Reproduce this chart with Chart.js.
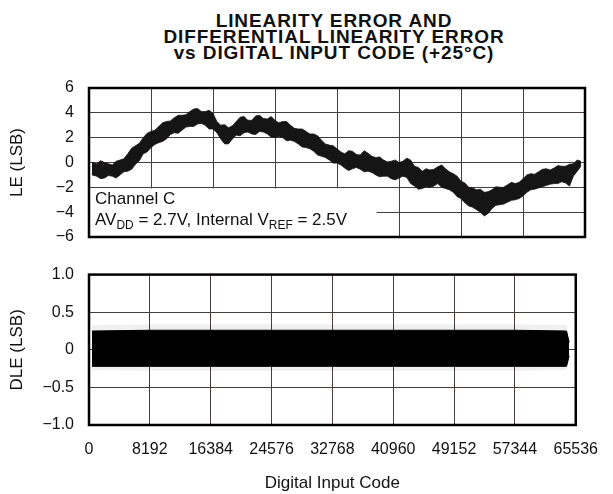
<!DOCTYPE html>
<html>
<head>
<meta charset="utf-8">
<script src="https://cdn.jsdelivr.net/npm/chart.js@4/dist/chart.umd.min.js"></script>
<style>
  body { margin: 0; background: #fff; width: 613px; height: 494px; position: relative; overflow: hidden; font-family: "Liberation Sans", Arial, sans-serif; }
  #title { position: absolute; left: 0; top: 13px; width: 668px; text-align: center; font-weight: bold; font-size: 19px; line-height: 16px; letter-spacing: 0.9px; color: #111; }
  canvas { position: absolute; left: 0; }
  #leChart { top: 0; }
  #dleChart { top: 250px; }
</style>
</head>
<body>
<div id="title">LINEARITY ERROR AND<br>DIFFERENTIAL LINEARITY ERROR<br>vs DIGITAL INPUT CODE (+25°C)</div>
<canvas id="leChart" width="613" height="262"></canvas>
<canvas id="dleChart" width="613" height="244"></canvas>
<script>
// Input codes and LE envelope (upper / lower edge of the noisy trace, in LSB)
const leCodes = [400,
  1024, 1536, 2048, 2560, 3072, 3584, 4096, 4608, 5120, 5632, 6144, 6656, 7168, 7680, 8192,
  8704, 9216, 9728, 10240, 10752, 11264, 11776, 12288, 12800, 13312, 13824, 14336, 14848, 15360, 15872, 16384,
  16896, 17408, 17920, 18432, 18944, 19456, 19968, 20480, 20992, 21504, 22016, 22528, 23040, 23552, 24064, 24576,
  25088, 25600, 26112, 26624, 27136, 27648, 28160, 28672, 29184, 29696, 30208, 30720, 31232, 31744, 32256, 32768,
  33280, 33792, 34304, 34816, 35328, 35840, 36352, 36864, 37376, 37888, 38400, 38912, 39424, 39936, 40448, 40960,
  41472, 41984, 42496, 43008, 43520, 44032, 44544, 45056, 45568, 46080, 46592, 47104, 47616, 48128, 48640, 49152,
  49664, 50176, 50688, 51200, 51712, 52224, 52736, 53248, 53760, 54272, 54784, 55296, 55808, 56320, 56832, 57344,
  57856, 58368, 58880, 59392, 59904, 60416, 60928, 61440, 61952, 62464, 62976, 63488, 64000, 64512,
  65000];
const leHigh = [0.0,
  -0.1, 0.15, 0.0, -0.1, -0.2, 0.1, 0.2, 0.3, 0.7, 1.15, 1.35, 1.55, 2.0, 2.35, 2.5,
  2.6, 2.9, 3.2, 3.3, 3.35, 3.6, 3.8, 3.8, 3.85, 4.1, 4.3, 4.35, 4.1, 4.1, 4.2, 3.95,
  3.3, 3.0, 3.05, 2.8, 2.95, 3.3, 3.65, 3.7, 3.4, 3.4, 3.75, 3.8, 3.55, 3.5, 3.7, 3.4,
  3.2, 3.3, 3.3, 3.0, 2.75, 2.7, 2.7, 2.5, 2.3, 2.3, 2.15, 1.8, 1.5, 1.4, 1.35, 1.1,
  0.85, 0.7, 0.95, 0.9, 0.65, 0.6, 0.95, 0.75, 0.5, 0.4, 0.45, 0.2, 0.05, 0.1, 0.2, 0.0,
  0.1, 0.35, 0.2, -0.3, -0.4, -0.7, -0.5, -0.6, -0.55, -0.35, -0.2, -0.5, -0.75, -0.9, -1.1, -1.5,
  -1.65, -2.0, -2.05, -2.2, -2.15, -2.4, -2.35, -2.2, -1.95, -2.0, -2.0, -1.8, -1.6, -1.7, -1.6, -1.3,
  -1.0, -0.9, -0.95, -0.75, -0.55, -0.5, -0.6, -0.45, -0.25, -0.3, -0.3, -0.15, -0.1, 0.2,
  0.1];
const leLow = [-1.0,
  -1.1, -1.3, -1.25, -1.05, -1.1, -1.25, -1.0, -0.75, -0.7, -0.55, -0.15, 0.15, 0.7, 0.85, 1.2,
  1.45, 1.6, 1.7, 1.9, 2.25, 2.4, 2.35, 2.6, 2.85, 2.9, 2.9, 3.1, 3.15, 3.0, 2.7, 2.7,
  2.4, 1.9, 1.5, 1.5, 1.9, 2.2, 2.15, 2.4, 2.45, 2.3, 2.25, 2.5, 2.45, 2.3, 2.05, 2.0,
  2.1, 2.0, 1.75, 1.8, 1.7, 1.5, 1.25, 1.2, 1.1, 0.9, 0.6, 0.5, 0.4, 0.2, -0.05, -0.05,
  -0.2, -0.45, -0.65, -0.5, -0.4, -0.55, -0.75, -0.7, -0.8, -1.0, -1.15, -1.1, -1.1, -1.3, -1.4, -1.25,
  -1.1, -1.2, -1.7, -1.9, -2.15, -2.1, -1.95, -2.0, -1.9, -1.7, -2.0, -2.1, -2.2, -2.4, -2.75, -2.9,
  -3.25, -3.5, -3.6, -3.8, -4.0, -4.3, -4.1, -3.7, -3.45, -3.4, -3.35, -3.2, -3.05, -3.0, -2.9, -2.7,
  -2.4, -2.2, -2.15, -2.05, -1.95, -1.85, -1.75, -1.7, -1.7, -1.55, -1.65, -1.9, -1.1, -0.7,
  -0.3];

// DLE band: dense core and the faint outer spread
const dleCodes = [400, 8192, 16384, 24576, 32768, 40960, 49152, 57344, 64300, 64650];
const dleHigh = [0.25, 0.26, 0.26, 0.26, 0.26, 0.26, 0.26, 0.26, 0.25, 0.1];
const dleLow = [-0.22, -0.22, -0.22, -0.22, -0.22, -0.22, -0.22, -0.22, -0.22, -0.08];
const dleSpreadHigh = [0.33, 0.34, 0.34, 0.34, 0.34, 0.34, 0.34, 0.34, 0.33, 0.1];
const dleSpreadLow = [-0.27, -0.28, -0.28, -0.28, -0.28, -0.28, -0.28, -0.28, -0.27, -0.08];

// Axis ticks
const codeTicks = [0, 8192, 16384, 24576, 32768, 40960, 49152, 57344, 65536];
const leTicks = [-6, -4, -2, 0, 2, 4, 6];
const dleTicks = [-1.0, -0.5, 0, 0.5, 1.0];

const FONT = '"Liberation Sans", Arial, sans-serif';
const GRID = '#4a3c3c';

const pts = (xs, ys) => xs.map((x, i) => ({ x: x, y: ys[i] }));
const fmtLE = v => (v < 0 ? '\u2212' : '') + Math.abs(v);
const fmtDLE = v => v === 0 ? '0' : (v < 0 ? '\u2212' : '') + Math.abs(v).toFixed(1);

// heavy black frame round the plot area
const frame = {
  id: 'frame',
  afterDraw(chart) {
    const { ctx, chartArea: a } = chart;
    ctx.save();
    ctx.strokeStyle = '#000';
    ctx.lineWidth = 2.5;
    ctx.strokeRect(a.left, a.top, a.right - a.left, a.bottom - a.top);
    ctx.restore();
  }
};

// white note box in the lower left corner of the LE plot
const noteBox = {
  id: 'noteBox',
  beforeDatasetsDraw(chart) {
    const { ctx, chartArea: a, scales: { x, y } } = chart;
    const top = y.getPixelForValue(-2) + 1;
    const right = x.getPixelForValue(38000);
    ctx.save();
    ctx.fillStyle = '#fff';
    ctx.fillRect(a.left, top, right - a.left, a.bottom - top);
    ctx.fillStyle = '#111';
    ctx.textBaseline = 'alphabetic';
    const big = '17px ' + FONT, small = '12px ' + FONT;
    let px = a.left + 6;
    ctx.font = big;
    ctx.fillText('Channel C', px, top + 16);
    const base = top + 37;
    const parts = [['AV', big, 0], ['DD', small, 4], [' = 2.7V, Internal V', big, 0], ['REF', small, 4], [' = 2.5V', big, 0]];
    parts.forEach(([t, f, dy]) => {
      ctx.font = f;
      ctx.fillText(t, px, base + dy);
      px += ctx.measureText(t).width;
    });
    ctx.restore();
  }
};

const band = (data, fill, color, width) => ({
  data: data,
  borderColor: color,
  backgroundColor: color,
  borderWidth: width,
  pointRadius: 0,
  tension: 0,
  fill: fill
});

const xAxis = (showLabels) => ({
  type: 'linear',
  min: 0,
  max: 65536,
  afterBuildTicks: s => { s.ticks = codeTicks.map(v => ({ value: v })); },
  afterFit: s => { s.height = showLabels ? 69 : 0; },
  grid: { color: GRID, lineWidth: 1, drawTicks: false },
  border: { display: false },
  ticks: { display: showLabels, color: '#111', padding: 15, maxRotation: 0, autoSkip: false, callback: v => String(v), font: { family: FONT, size: 16 } },
  title: { display: showLabels, text: 'Digital Input Code', color: '#111', padding: { top: 7, bottom: 0 }, font: { family: FONT, size: 17 } }
});

const yAxis = (min, max, tickList, fmt, label) => ({
  min: min,
  max: max,
  afterBuildTicks: s => { s.ticks = tickList.map(v => ({ value: v })); },
  afterFit: s => { s.width = 89; },
  grid: { color: GRID, lineWidth: 1, drawTicks: false },
  border: { display: false },
  ticks: { color: '#111', padding: 15, callback: fmt, font: { family: FONT, size: 16 } },
  title: { display: true, text: label, color: '#111', padding: { top: 7, bottom: 0 }, font: { family: FONT, size: 17 } }
});

const common = {
  responsive: false,
  animation: false,
  devicePixelRatio: 1,
  plugins: { legend: { display: false }, tooltip: { enabled: false } }
};

new Chart(document.getElementById('leChart'), {
  type: 'line',
  data: {
    datasets: [
      band(pts(leCodes, leLow), false, '#151515', 0.8),
      band(pts(leCodes, leHigh), '-1', '#151515', 0.8)
    ]
  },
  options: Object.assign({}, common, {
    layout: { padding: { top: 88, right: 28, bottom: 25, left: 0 } },
    scales: { x: xAxis(false), y: yAxis(-6, 6, leTicks, fmtLE, 'LE (LSB)') }
  }),
  plugins: [noteBox, frame]
});

new Chart(document.getElementById('dleChart'), {
  type: 'line',
  data: {
    datasets: [
      band(pts(dleCodes, dleSpreadLow), false, 'rgba(0,0,0,0)', 0),
      band(pts(dleCodes, dleSpreadHigh), '-1', 'rgba(0,0,0,0.06)', 0),
      band(pts(dleCodes, dleLow), false, '#000', 1),
      band(pts(dleCodes, dleHigh), '-1', '#000', 1)
    ]
  },
  options: Object.assign({}, common, {
    layout: { padding: { top: 24, right: 28, bottom: 0, left: 0 } },
    scales: { x: xAxis(true), y: yAxis(-1, 1, dleTicks, fmtDLE, 'DLE (LSB)') }
  }),
  plugins: [frame]
});
</script>
</body>
</html>
